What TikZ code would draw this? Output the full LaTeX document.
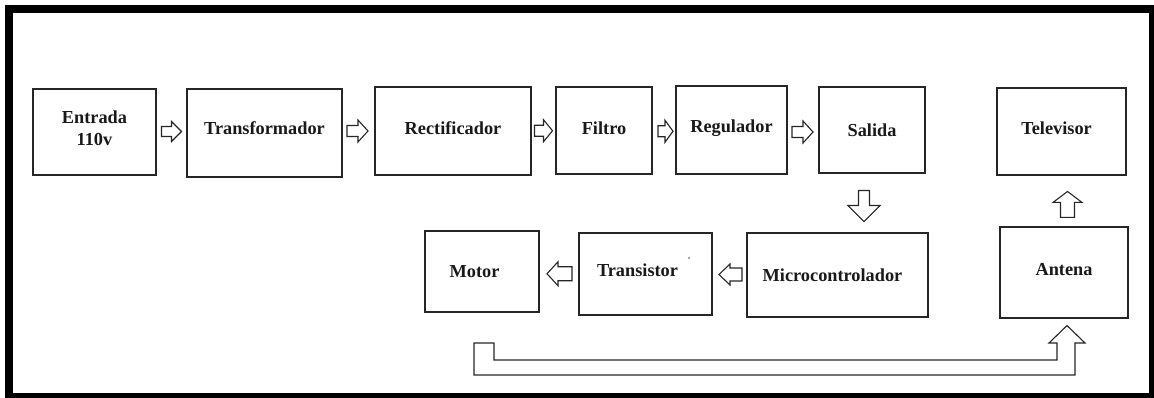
\documentclass[tikz,border=0pt]{standalone}
\usepackage{fontspec}
\setmainfont{Liberation Serif}
\usetikzlibrary{calc}
\begin{document}
\begin{tikzpicture}[x=1pt,y=-1pt,
  box/.style={draw=black!85, line width=1.1pt, inner sep=0pt, rectangle, fill=white},
  txt/.style={font=\fontsize{18.3}{22}\selectfont\bfseries, align=center, text=black!90, inner sep=0pt},
  outline/.style={draw=black!85, line width=1.1pt, line join=miter, fill=white},
  % hollow block arrow pointing along +x: length / head length / half head width / half shaft width
  pics/blockarrow/.style args={#1/#2/#3/#4}{code={
    \draw[outline]
      (-#1/2,-#4) -- (#1/2-#2,-#4) -- (#1/2-#2,-#3) -- (#1/2,0)
      -- (#1/2-#2,#3) -- (#1/2-#2,#4) -- (-#1/2,#4) -- cycle;
  }}
]
\useasboundingbox (0,0) rectangle (1154,398);

% heavy outer frame
\draw[line width=8pt] (9,9) rectangle (1153,397);

% upper row: power supply chain
\node[box, minimum width=123, minimum height=86,
  label={[txt,yshift=4pt]center:Entrada\\110v}] (entrada) at (94.5,132) {};
\node[box, minimum width=155, minimum height=88,
  label={[txt,yshift=5pt]center:Transformador}] (transf) at (264.5,133) {};
\node[box, minimum width=156, minimum height=88,
  label={[txt,yshift=3pt]center:Rectificador}] (rect) at (453,131) {};
\node[box, minimum width=96, minimum height=87,
  label={[txt,yshift=2.5pt]center:Filtro}] (filtro) at (604,130.5) {};
\node[box, minimum width=111, minimum height=88,
  label={[txt,yshift=2pt]center:Regulador}] (regul) at (731.5,130) {};
\node[box, minimum width=106, minimum height=86,
  label={[txt]center:Salida}] (salida) at (872,130) {};
\node[box, minimum width=129, minimum height=87,
  label={[txt,yshift=3.5pt,xshift=-5pt]center:Televisor}] (tele) at (1061.5,131.5) {};

% lower row
\node[box, minimum width=114, minimum height=81,
  label={[txt,xshift=-7.5pt]center:Motor}] (motor) at (482,271.5) {};
\node[box, minimum width=133, minimum height=82,
  label={[txt,yshift=4pt,xshift=-8pt]center:Transistor}] (trans) at (645.5,274) {};
\node[box, minimum width=181, minimum height=84,
  label={[txt,xshift=-5pt]center:Microcontrolador}] (micro) at (837.5,275) {};
\node[box, minimum width=128, minimum height=91,
  label={[txt,yshift=2.5pt]center:Antena}] (antena) at (1064,272.5) {};

% small mark inside the transistor block
\fill[black!70] (689,258) circle (0.8);

% block arrows between the blocks
\pic at ($(entrada.east)!0.5!(transf.west)+(0,-1)$) {blockarrow=20/10/10/5};
\pic at ($(transf.east)!0.5!(rect.west)+(-1,-1)$) {blockarrow=21/10/11/5.5};
\pic at ($(rect.east)!0.5!(filtro.west)$) {blockarrow=18/9/11/5.5};
\pic at ($(filtro.east)!0.5!(regul.west)+(1.5,1)$) {blockarrow=15/8/11/5.5};
\pic at ($(regul.east)!0.5!(salida.west)+(-0.5,2)$) {blockarrow=21/10/11/5.5};
\pic[rotate=-90] at ($(salida.south)+(-8,32.5)$) {blockarrow=31/16/16/5.5};
\pic[rotate=90] at ($(antena.north)+(3.5,-22)$) {blockarrow=26/11/14.5/7};
\pic[rotate=180] at ($(micro.west)!0.5!(trans.east)+(1,0)$) {blockarrow=23/11/10.5/6.5};
\pic[rotate=180] at ($(trans.west)!0.5!(motor.east)+(0.5,1)$) {blockarrow=25/11/12/7};

% long return arrow into the antenna
\coordinate (tip) at ($(antena.south)+(3,7)$);
\draw[outline] (474,343) -- (494,343) -- (494,360) -- (1057,360) -- (1057,343)
  -- (1049,343) -- (tip) -- (1085,343) -- (1075,343) -- (1075,375) -- (474,375) -- cycle;
\end{tikzpicture}
\end{document}
